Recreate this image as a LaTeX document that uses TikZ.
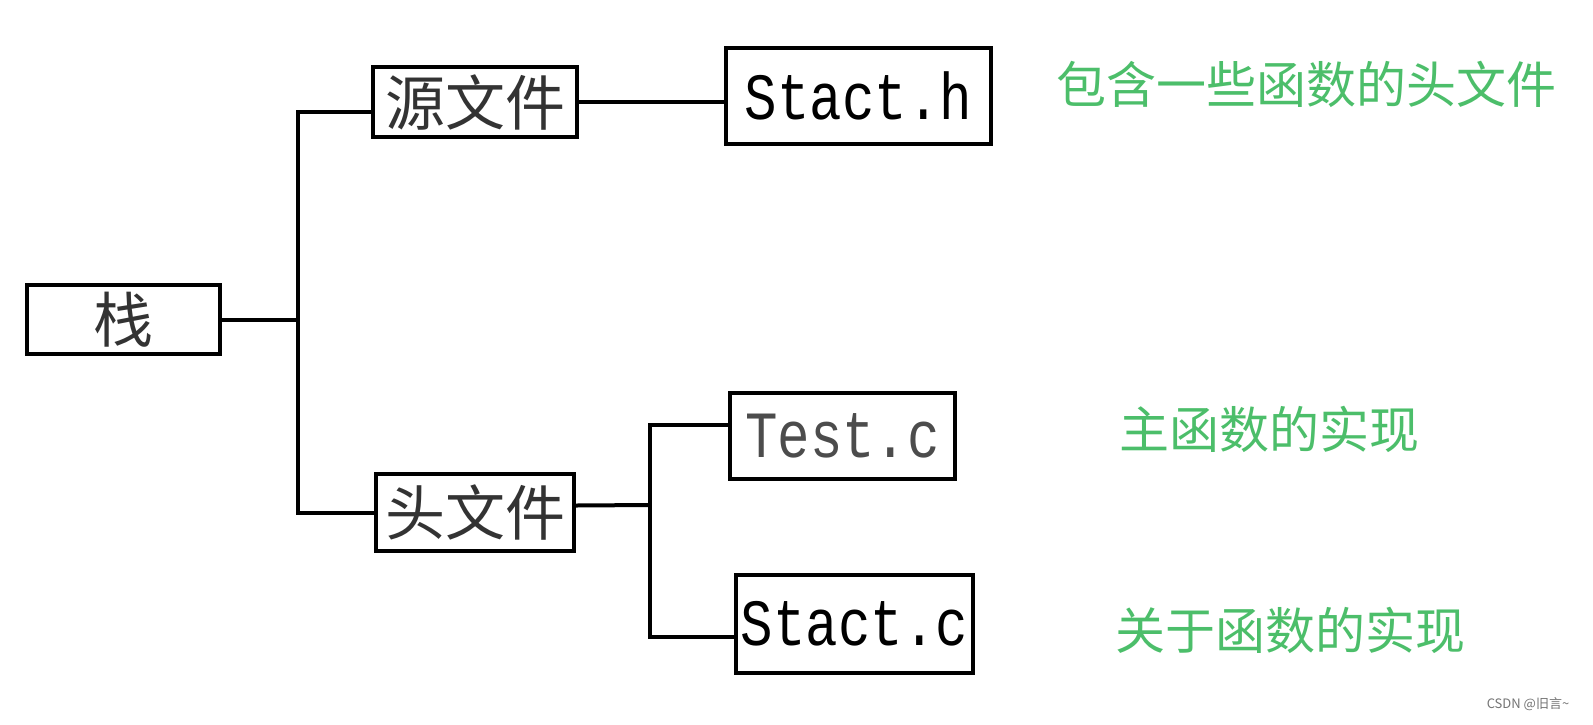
\documentclass[tikz,border=0pt]{standalone}
\usepackage{fontspec}
\newfontfamily\cjk{Noto Sans CJK SC}
\newfontfamily\codefont[FakeStretch=0.82]{Liberation Mono}
\usetikzlibrary{positioning,calc}
\definecolor{notegreen}{RGB}{76,190,106}

\begin{document}
\begin{tikzpicture}[
    x=1pt, y=-1pt,
    box/.style={rectangle, draw=black, line width=4pt, inner sep=0pt, align=center},
    cnbox/.style={box, font=\cjk\fontsize{60}{60}\selectfont, text=black!80},
    codebox/.style={box, font=\codefont\fontsize{66}{66}\selectfont},
    link/.style={line width=4pt},
    note/.style={font=\cjk\fontsize{50}{50}\selectfont, text=notegreen}
]
\useasboundingbox (0,0) rectangle (1593,724);

% Root
\node[cnbox, minimum width=193pt, minimum height=69pt] (zhan) at (123.5,319.5) {栈};

% Second level
\node[cnbox, minimum width=204pt, minimum height=70pt] (yuan) at (475,102) {源文件};
\node[cnbox, minimum width=198pt, minimum height=77pt] (tou) at (475,512.5) {头文件};

% Files
\node[codebox, minimum width=265pt, minimum height=96pt] (stacth) at (858.5,96) {Stact.h};
\node[codebox, minimum width=225pt, minimum height=86pt, text=black!70] (testc) at (842.5,436) {Test.c};
\node[codebox, minimum width=237pt, minimum height=98pt] (stactc) at (854.5,624) {Stact.c};

% Notes
\node[note] (notea) at (1306,84) {包含一些函数的头文件};
\node[note] (noteb) at (1269,429) {主函数的实现};
\node[note] (notec) at (1290,630) {关于函数的实现};

% Branch points
\coordinate (fork1) at (298,319.5);
\coordinate (fork2) at (650,505);

% Lines
\draw[link] (zhan.east) -- (fork1);
\draw[link] ([yshift=-10pt]yuan.west) -| (fork1) |- (tou.west);
\draw[link] (yuan.east) -- (yuan.east -| stacth.west);
\draw[link] ([yshift=7pt]tou.east) -- (fork2);
\draw[link] ([yshift=11pt]testc.west) -| (fork2) |- ([yshift=-13pt]stactc.west);

% Watermark
\node[font=\cjk\fontsize{13}{13}\selectfont, text=black!55] (mark) at (1528,704) {CSDN @旧言\textasciitilde};

\end{tikzpicture}
\end{document}
